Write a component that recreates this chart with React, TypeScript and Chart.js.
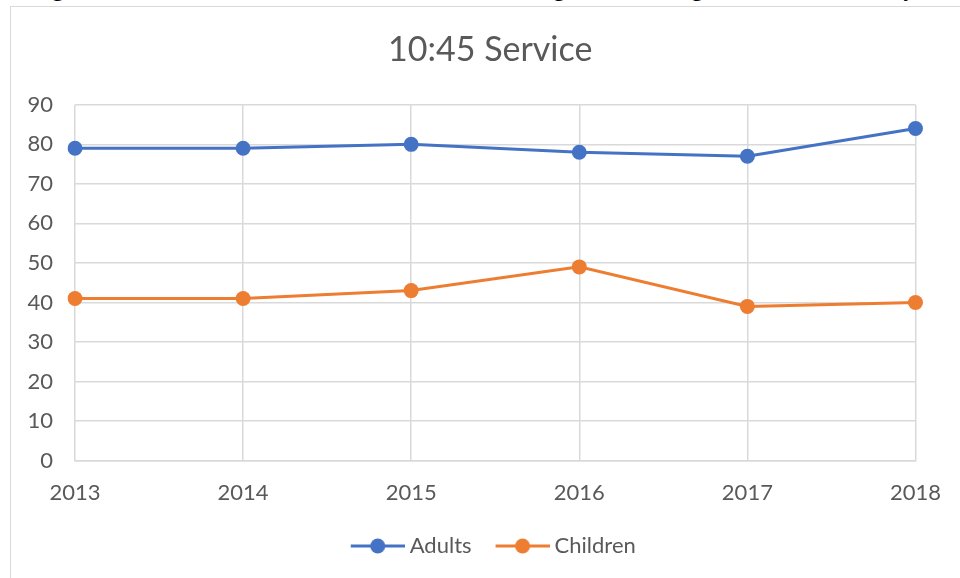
import React, { useEffect, useRef } from "react";
import { Chart, registerables } from "chart.js";

Chart.register(...registerables);

const years = ["2013", "2014", "2015", "2016", "2017", "2018"];
const adults = [79, 79, 80, 78, 77, 84];
const children = [41, 41, 43, 49, 39, 40];
const chartTitle = "10:45 Service";
const caption = "Average attendance at the 10:45 Service for adults showing a small change across the last five years";

const BLUE = "#4472C4";
const ORANGE = "#ED7D31";
const GRID = "#D9D9D9";
const TEXT = "#595959";
const FONT = "Lato, 'Open Sans', sans-serif";

const LEGEND_PAD = 10;
const ICON_LEFT = 20;
const ICON_W = 74;

function legendIcon(color: string): HTMLCanvasElement {
  const c = document.createElement("canvas");
  c.width = ICON_W;
  c.height = 16;
  const ctx = c.getContext("2d")!;
  ctx.strokeStyle = color;
  ctx.lineWidth = 3;
  ctx.beginPath();
  ctx.moveTo(ICON_LEFT, 8);
  ctx.lineTo(ICON_LEFT + 54, 8);
  ctx.stroke();
  ctx.fillStyle = color;
  ctx.beginPath();
  ctx.arc(ICON_LEFT + 27, 8, 7.5, 0, Math.PI * 2);
  ctx.fill();
  return c;
}

const boxShift = {
  id: "boxShift",
  afterLayout(chart: any) {
    if (chart.legend) {
      chart.legend.left -= 9;
      chart.legend.right -= 9;
    }
    if (chart.titleBlock) {
      chart.titleBlock.left -= 5;
      chart.titleBlock.right -= 5;
    }
  },
};

export default function App() {
  const ref = useRef<HTMLCanvasElement>(null);
  useEffect(() => {
    if (!ref.current) return;
    const blueIcon = legendIcon(BLUE);
    const orangeIcon = legendIcon(ORANGE);
    const chart = new Chart(ref.current, {
      type: "line",
      data: {
        labels: years,
        datasets: [
          {
            label: "Adults",
            data: adults,
            borderColor: BLUE,
            backgroundColor: BLUE,
            borderWidth: 3,
            pointRadius: 7.5,
            pointHoverRadius: 7.5,
            pointBackgroundColor: BLUE,
            pointBorderWidth: 0,
            pointStyle: "circle",
            tension: 0,
          },
          {
            label: "Children",
            data: children,
            borderColor: ORANGE,
            backgroundColor: ORANGE,
            borderWidth: 3,
            pointRadius: 7.5,
            pointHoverRadius: 7.5,
            pointBackgroundColor: ORANGE,
            pointBorderWidth: 0,
            pointStyle: "circle",
            tension: 0,
          },
        ],
      },
      plugins: [boxShift],
      options: {
        animation: false,
        responsive: false,
        layout: { padding: { left: 20, right: 39, top: 0, bottom: 33 } },
        scales: {
          x: {
            type: "category",
            offset: false,
            grid: { color: GRID, lineWidth: 1.5, drawTicks: false },
            border: { color: GRID, width: 1.5 },
            ticks: { color: TEXT, font: { family: FONT, size: 22 }, padding: 19, maxRotation: 0 },
          },
          y: {
            min: 0,
            max: 90,
            ticks: { stepSize: 10, color: TEXT, font: { family: FONT, size: 22 }, padding: 22 },
            grid: { color: GRID, lineWidth: 1.5, drawTicks: false },
            border: { display: false },
            afterFit: (s: any) => {
              s.width = 55;
            },
          },
        },
        plugins: {
          title: {
            display: true,
            fullSize: false,
            text: chartTitle,
            color: TEXT,
            font: { family: FONT, size: 34, weight: "normal" },
            padding: { top: 30, bottom: 34 },
          },
          legend: {
            position: "bottom",
            fullSize: false,
            labels: {
              usePointStyle: true,
              pointStyleWidth: 62,
              color: TEXT,
              font: { family: FONT, size: 22 },
              padding: LEGEND_PAD,
              generateLabels: (ch: any) =>
                ch.data.datasets.map((d: any, i: number) => ({
                  text: d.label,
                  fillStyle: d.borderColor,
                  strokeStyle: d.borderColor,
                  lineWidth: 0,
                  pointStyle: i === 0 ? blueIcon : orangeIcon,
                  datasetIndex: i,
                  hidden: false,
                  fontColor: TEXT,
                })),
            },
          },
          tooltip: { enabled: false },
        },
      },
    });
    return () => chart.destroy();
  }, []);

  return (
    <div style={{ position: "fixed", left: 0, top: 0, width: 960, height: 578, overflow: "hidden", background: "#fff" }}>
      <div
        style={{
          position: "absolute",
          left: -5,
          top: -24,
          whiteSpace: "nowrap",
          fontFamily: "'Liberation Serif', 'Times New Roman', serif",
          fontSize: 24,
          lineHeight: "24px",
          color: "#000",
        }}
      >
        {caption}
      </div>
      <div
        style={{
          position: "absolute",
          left: 10,
          top: 6,
          width: 1000,
          height: 1000,
          border: "1.5px solid " + GRID,
          background: "#fff",
        }}
      />
      <canvas ref={ref} width={960} height={600} style={{ position: "absolute", left: 0, top: 0 }} />
    </div>
  );
}
